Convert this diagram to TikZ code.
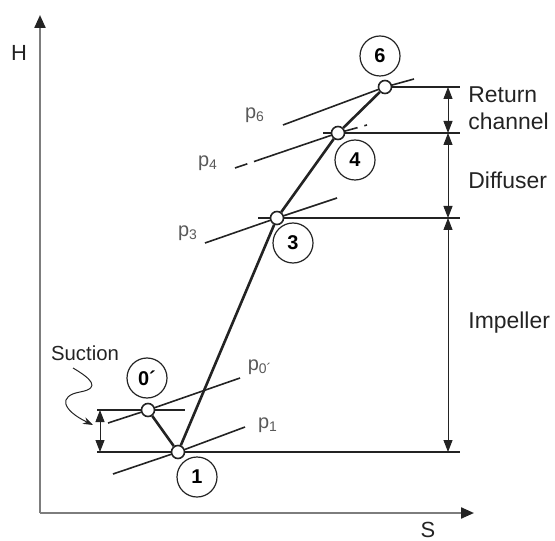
\documentclass[tikz,border=0pt]{standalone}
\usepackage{fontspec}
\setmainfont{Liberation Sans}
\usetikzlibrary{arrows.meta,positioning,calc}
\definecolor{inkgray}{RGB}{35,35,35}
\definecolor{axisgray}{RGB}{125,125,125}

\begin{document}
\begin{tikzpicture}[x=0.5bp,y=-0.5bp,state/.style={circle,draw=inkgray,fill=white,line width=0.8bp,inner sep=0pt,minimum size=6.5bp},tag/.style={circle,draw=inkgray,line width=0.6bp,inner sep=0pt,minimum size=20bp,font=\fontsize{10}{12}\selectfont\bfseries},proc/.style={line width=1.3bp,inkgray},isobar/.style={line width=0.8bp,inkgray},level/.style={line width=0.6bp,inkgray},dim/.style={{Triangle[length=6bp,width=4.5bp]}-{Triangle[length=6bp,width=4.5bp]},line width=0.5bp,inkgray},axis/.style={-{Triangle[length=6.5bp,width=5.5bp,color=inkgray]},line width=1.1bp,axisgray},lbl/.style={text=inkgray,font=\fontsize{11.5}{13.5}\selectfont,align=left,anchor=west,inner sep=0pt},plbl/.style={text=black!65,font=\fontsize{10}{12}\selectfont,inner sep=1pt}]
\useasboundingbox (0,0) rectangle (555,541);
% axes
\coordinate (O) at (40,513); \coordinate (Htip) at (40,15); \coordinate (Stip) at (474,513);
\draw[axis] (O) -- (Htip); \draw[axis] (O) -- (Stip);
\node[text=inkgray,font=\fontsize{11}{13}\selectfont,inner sep=1pt] (H) at (19,53) {H};
\node[text=inkgray,font=\fontsize{11}{13}\selectfont,inner sep=1pt] (S) at (428,530) {S};
% states of the compression
\node[state] (s0) at (148,410) {}; \node[state] (s1) at (178,452) {};
\node[state] (s3) at (277,218) {}; \node[state] (s4) at (338,133) {};
\node[state] (s6) at (385,87) {};
\node[tag] (t0) at (147,378) {0´}; \node[tag] (t1) at (197,477) {1};
\node[tag] (t3) at (293,243) {3}; \node[tag] (t4) at (355,160) {4};
\node[tag] (t6) at (380,56) {6};
\draw[proc] (s0) -- (s1) -- (s3) -- (s4) -- (s6);
% isobars
\coordinate (a0) at (108,423); \coordinate (b0) at (240,378);
\coordinate (a1) at (113,474); \coordinate (b1) at (245,427);
\coordinate (a3) at (205,243); \coordinate (b3) at (337,198);
\coordinate (a4) at (235,168); \coordinate (b4) at (367,125);
\coordinate (a6) at (283,125); \coordinate (b6) at (414,79);
\draw[isobar] (a0) -- (s0) -- (b0); \draw[isobar] (a1) -- (s1) -- (b1);
\draw[isobar] (a3) -- (s3) -- (b3); \draw[isobar] (a6) -- (s6) -- (b6);
\draw[isobar,dash pattern=on 6.5bp off 3.5bp on 200bp] (a4) -- (s4) -- (b4);
\node[plbl] (lp0) at (260,367) {p\textsubscript{0´}}; \node[plbl] (lp1) at (268,425) {p\textsubscript{1}};
\node[plbl] (lp3) at (188,233) {p\textsubscript{3}}; \node[plbl] (lp4) at (208,163) {p\textsubscript{4}};
\node[plbl] (lp6) at (255,115) {p\textsubscript{6}};
% levels and stages
\coordinate (l0) at (97,410); \coordinate (r0) at (185,410);
\coordinate (l1) at (97,452); \coordinate (r1) at (460,452);
\coordinate (l3) at (258,218); \coordinate (r3) at (460,218);
\coordinate (l4) at (323,133); \coordinate (r4) at (460,133);
\coordinate (r6) at (460,87);
\draw[level] (l0) -- (s0) -- (r0); \draw[level] (l1) -- (s1) -- (r1);
\draw[level] (l3) -- (s3) -- (r3); \draw[level] (l4) -- (s4) -- (r4);
\draw[level] (s6) -- (r6);
\coordinate (d6) at (448,87); \coordinate (d4) at (448,133);
\coordinate (d3) at (448,218); \coordinate (d1) at (448,452);
\draw[dim] (d6) -- (d4); \draw[dim] (d4) -- (d3); \draw[dim] (d3) -- (d1);
\node[lbl] (ret) at (468,108) {Return\\channel};
\node[lbl] (dif) at (468,180) {Diffuser};
\node[lbl] (imp) at (468,323) {Impeller};
% suction
\coordinate (e0) at (100,410); \coordinate (e1) at (100,452);
\draw[dim] (e0) -- (e1);
\node[text=inkgray,font=\fontsize{10.2}{12}\selectfont] (suc) at (85,353) {Suction};
\coordinate (sq) at (73,368); \coordinate (sqend) at (93,425);
\draw[line width=0.5bp,inkgray,-{Stealth[length=5bp,width=3.5bp]}] (sq) .. controls (90,378) and (102,388) .. (80,392) .. controls (58,396) and (62,410) .. (sqend);
\end{tikzpicture}
\end{document}
